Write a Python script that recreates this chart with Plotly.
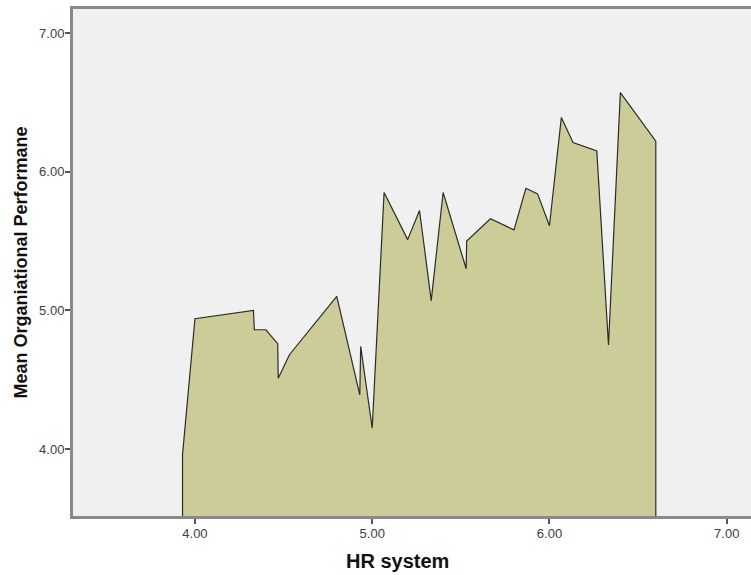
import plotly.graph_objects as go

# Data
hr_system = [3.93, 4.00, 4.33, 4.335, 4.40, 4.467, 4.47, 4.533, 4.80, 4.93, 4.935,
             5.00, 5.067, 5.20, 5.267, 5.333, 5.40, 5.53, 5.533, 5.667, 5.80, 5.867,
             5.933, 6.00, 6.067, 6.133, 6.267, 6.333, 6.40, 6.60]
mean_perf = [3.96, 4.94, 5.00, 4.86, 4.86, 4.76, 4.51, 4.68, 5.10, 4.39, 4.74,
             4.15, 5.85, 5.51, 5.72, 5.07, 5.85, 5.30, 5.50, 5.66, 5.58, 5.88,
             5.84, 5.61, 6.39, 6.21, 6.15, 4.75, 6.57, 6.22]

x_ticks = [4.00, 5.00, 6.00, 7.00]
y_ticks = [4.00, 5.00, 6.00, 7.00]
baseline = 0.0

# Close the area down to the baseline at both ends so the outline drops vertically
xs = [hr_system[0]] + hr_system + [hr_system[-1]]
ys = [baseline] + mean_perf + [baseline]

fig = go.Figure()
fig.add_trace(go.Scatter(
    x=xs, y=ys,
    mode="lines",
    fill="tozeroy",
    fillcolor="#CCCC99",
    line=dict(color="#2b2b2b", width=1.2),
    hoverinfo="skip",
    showlegend=False,
))

axis_common = dict(
    showgrid=False,
    zeroline=False,
    showline=True,
    linecolor="#8a8a8a",
    linewidth=3,
    ticks="outside",
    ticklen=5,
    tickwidth=2,
    tickcolor="#555555",
    tickfont=dict(family="Liberation Sans, Arial, sans-serif", size=13, color="#404040"),
    tickformat=".2f",
    automargin=False,
    ticklabelstandoff=-2,
)

fig.update_xaxes(range=[3.312, 7.137], tickvals=x_ticks, mirror=True, **axis_common)
fig.update_yaxes(range=[3.517, 7.173], tickvals=y_ticks, **axis_common)

fig.update_layout(
    width=751, height=575,
    margin=dict(l=73, r=0, t=9, b=59, autoexpand=False),
    paper_bgcolor="white",
    plot_bgcolor="#F0F0F0",
    annotations=[
        dict(text="<b>HR system</b>", xref="paper", yref="paper", x=0.478, y=0,
             xanchor="center", yanchor="middle", yshift=-45, showarrow=False,
             font=dict(family="Liberation Sans, Arial, sans-serif", size=20, color="#111111")),
        dict(text="<b>Mean Organiational Performane</b>", xref="paper", yref="paper",
             x=0, y=0.5, xanchor="center", yanchor="middle", xshift=-53, textangle=-90,
             showarrow=False,
             font=dict(family="Liberation Sans, Arial, sans-serif", size=18, color="#111111")),
    ],
)

fig.write_html(
    "out.html",
    config={"displayModeBar": False, "staticPlot": True},
    post_script="document.body.style.margin='0';document.body.style.overflow='hidden';",
)
